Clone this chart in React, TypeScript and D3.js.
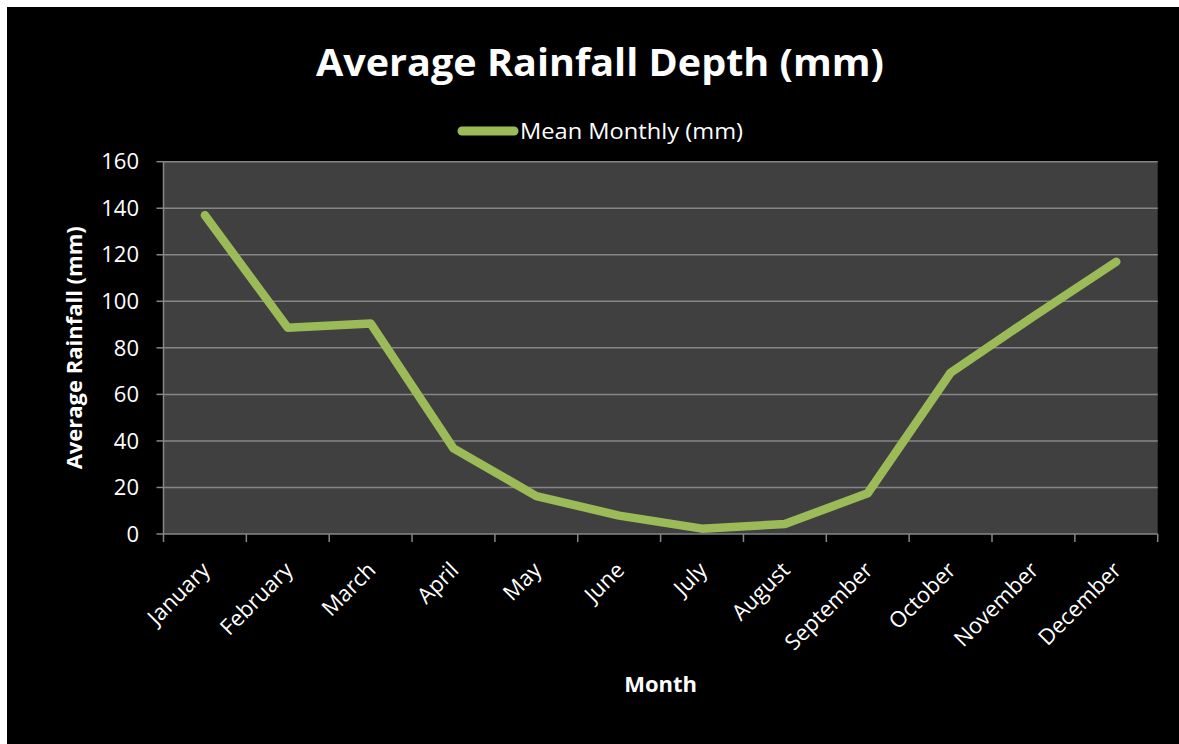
import * as d3 from "d3";

const months = [
  "January",
  "February",
  "March",
  "April",
  "May",
  "June",
  "July",
  "August",
  "September",
  "October",
  "November",
  "December",
];

// mean monthly rainfall, mm
const rainfall = [137, 88.6, 90.5, 36.8, 16.3, 7.9, 2.3, 4.3, 17.5, 69.3, 93.5, 117];

const yTicks = [0, 20, 40, 60, 80, 100, 120, 140, 160];

const W = 1179;
const H = 744;
const plot = { left: 163.5, right: 1157.7, top: 161.7, bottom: 534 };
const green = "#9BBB59";
const grid = "#868686";
const font = "'Open Sans', 'Noto Sans', sans-serif";

export default function App() {
  const x = d3
    .scaleBand<string>()
    .domain(months)
    .range([plot.left, plot.right])
    .padding(0);
  const y = d3.scaleLinear().domain([0, 160]).range([plot.bottom, plot.top]);
  const bw = x.bandwidth();

  const line = d3
    .line<number>()
    .x((_, i) => (x(months[i]) as number) + bw / 2)
    .y((d) => y(d));

  // tick marks sit between the categories
  const catTicks = months.map((m) => x(m) as number).concat([plot.right]);

  return (
    <svg
      width={W}
      height={H}
      style={{ position: "absolute", left: 0, top: 0, display: "block" }}
      fontFamily={font}
    >
      <rect width={W} height={H} fill="white" />
      <rect x={7} y={7} width={W - 7} height={H - 7} fill="black" />

      {/* title */}
      <text
        x={600}
        y={76}
        textAnchor="middle"
        fill="white"
        fontSize={37}
        fontWeight="bold"
        textLength={568}
        lengthAdjust="spacingAndGlyphs"
      >
        Average Rainfall Depth (mm)
      </text>

      {/* legend */}
      <line x1={462} x2={514} y1={131} y2={131} stroke={green} strokeWidth={9} strokeLinecap="round" />
      <text x={520} y={139} fill="white" fontSize={22} textLength={223} lengthAdjust="spacingAndGlyphs">
        Mean Monthly (mm)
      </text>

      {/* plot area */}
      <rect
        x={plot.left}
        y={plot.top}
        width={plot.right - plot.left}
        height={plot.bottom - plot.top}
        fill="#404040"
      />

      {yTicks.map((t) => (
        <g key={t}>
          {t > 0 && (
            <line x1={plot.left} x2={plot.right} y1={y(t)} y2={y(t)} stroke={grid} strokeWidth={1.5} />
          )}
          <line x1={plot.left - 7} x2={plot.left} y1={y(t)} y2={y(t)} stroke={grid} strokeWidth={1.5} />
          <text x={139} y={y(t)} dy="0.35em" textAnchor="end" fill="white" fontSize={22}>
            {t}
          </text>
        </g>
      ))}

      {/* axes */}
      <line x1={plot.left} x2={plot.left} y1={plot.top} y2={plot.bottom} stroke={grid} strokeWidth={1.5} />
      <line x1={plot.left} x2={plot.right} y1={plot.bottom} y2={plot.bottom} stroke={grid} strokeWidth={1.5} />
      {catTicks.map((tx, i) => (
        <line key={i} x1={tx} x2={tx} y1={plot.bottom} y2={plot.bottom + 8} stroke={grid} strokeWidth={1.5} />
      ))}

      {months.map((m) => {
        const cx = (x(m) as number) + bw / 2;
        return (
          <text
            key={m}
            transform={`translate(${cx + 1},${566}) rotate(-45)`}
            textAnchor="end"
            dy="0.35em"
            fill="white"
            fontSize={22}
          >
            {m}
          </text>
        );
      })}

      {/* series */}
      <path
        d={line(rainfall) || ""}
        fill="none"
        stroke={green}
        strokeWidth={8.5}
        strokeLinecap="round"
        strokeLinejoin="round"
      />

      {/* axis titles */}
      <text
        transform={`translate(82,${(plot.top + plot.bottom) / 2}) rotate(-90)`}
        textAnchor="middle"
        fill="white"
        fontSize={21}
        fontWeight="bold"
        textLength={243}
        lengthAdjust="spacingAndGlyphs"
      >
        Average Rainfall (mm)
      </text>
      <text
        x={(plot.left + plot.right) / 2}
        y={692}
        textAnchor="middle"
        fill="white"
        fontSize={22}
        fontWeight="bold"
      >
        Month
      </text>
    </svg>
  );
}
